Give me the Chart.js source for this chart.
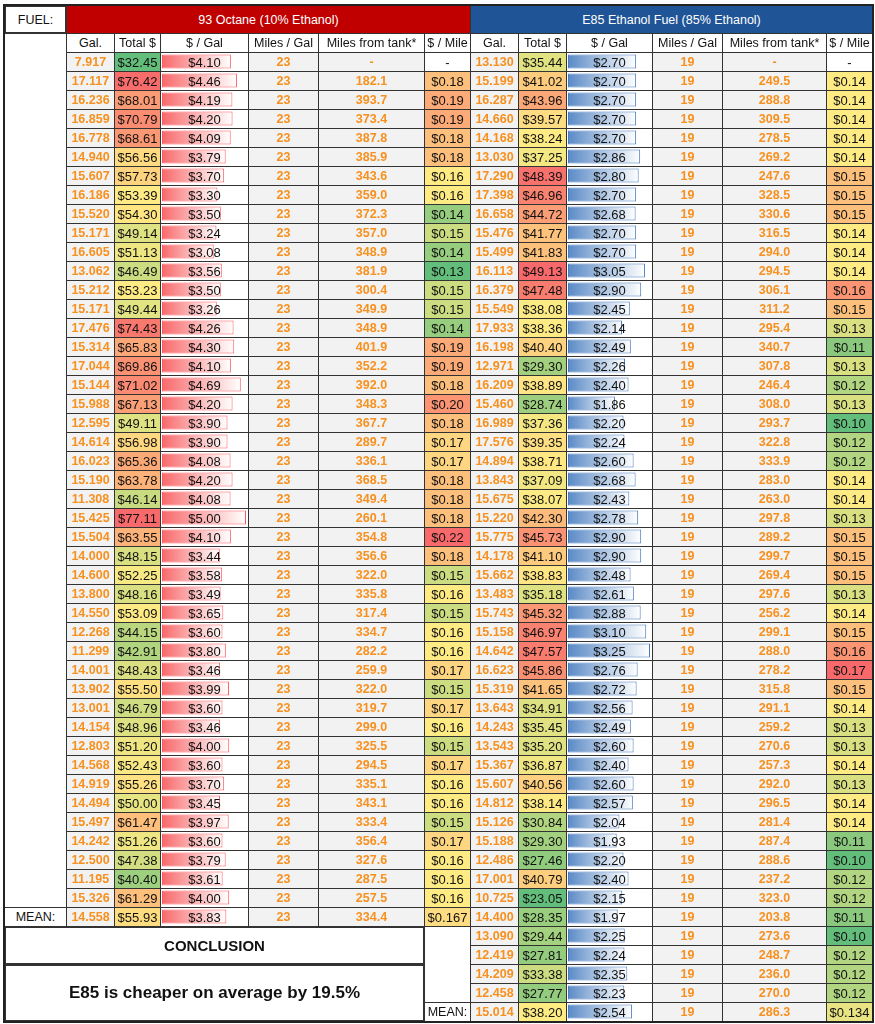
<!DOCTYPE html>
<html>
<head>
<meta charset="utf-8">
<script src="https://cdn.jsdelivr.net/npm/chart.js@4.4.1/dist/chart.umd.min.js"></script>
<style>
  body { margin: 0; background: #fff; font-family: "Liberation Sans", Arial, sans-serif; }
  #page { position: relative; width: 875px; height: 1024px; overflow: hidden; }
  .c { position: absolute; box-sizing: border-box; border: 1px solid #333; display: flex;
       align-items: center; justify-content: center; font-size: 12.5px; color: #111; white-space: nowrap; z-index: 2; }
  .o { color: #f7901e; font-weight: bold; }
  .bar { background: transparent !important; }
  canvas { position: absolute; z-index: 1; }
</style>
</head>
<body>
<div id="page">
  <canvas id="barsL"></canvas>
  <canvas id="barsR"></canvas>
</div>
<script>
// 93 Octane (10% Ethanol)
const galL   = [7.917,17.117,16.236,16.859,16.778,14.940,15.607,16.186,15.520,15.171,16.605,13.062,15.212,15.171,17.476,15.314,17.044,15.144,15.988,12.595,14.614,16.023,15.190,11.308,15.425,15.504,14.000,14.600,13.800,14.550,12.268,11.299,14.001,13.902,13.001,14.154,12.803,14.568,14.919,14.494,15.497,14.242,12.500,11.195,15.326];
const totalL = [32.45,76.42,68.01,70.79,68.61,56.56,57.73,53.39,54.30,49.14,51.13,46.49,53.23,49.44,74.43,65.83,69.86,71.02,67.13,49.11,56.98,65.36,63.78,46.14,77.11,63.55,48.15,52.25,48.16,53.09,44.15,42.91,48.43,55.50,46.79,48.96,51.20,52.43,55.26,50.00,61.47,51.26,47.38,40.40,61.29];
const ppgL   = [4.10,4.46,4.19,4.20,4.09,3.79,3.70,3.30,3.50,3.24,3.08,3.56,3.50,3.26,4.26,4.30,4.10,4.69,4.20,3.90,3.90,4.08,4.20,4.08,5.00,4.10,3.44,3.58,3.49,3.65,3.60,3.80,3.46,3.99,3.60,3.46,4.00,3.60,3.70,3.45,3.97,3.60,3.79,3.61,4.00];
const milesL = [null,182.1,393.7,373.4,387.8,385.9,343.6,359.0,372.3,357.0,348.9,381.9,300.4,349.9,348.9,401.9,352.2,392.0,348.3,367.7,289.7,336.1,368.5,349.4,260.1,354.8,356.6,322.0,335.8,317.4,334.7,282.2,259.9,322.0,319.7,299.0,325.5,294.5,335.1,343.1,333.4,356.4,327.6,287.5,257.5];
const ppmL   = [null,0.18,0.19,0.19,0.18,0.18,0.16,0.16,0.14,0.15,0.14,0.13,0.15,0.15,0.14,0.19,0.19,0.18,0.20,0.18,0.17,0.17,0.18,0.18,0.18,0.22,0.18,0.15,0.16,0.15,0.16,0.16,0.17,0.15,0.17,0.16,0.15,0.17,0.16,0.16,0.15,0.17,0.16,0.16,0.16];
const mpgL = 23;
const meanL = ["14.558", 55.93, 3.83, "334.4", "$0.167"];

// E85 Ethanol Fuel (85% Ethanol)
const galR   = [13.130,15.199,16.287,14.660,14.168,13.030,17.290,17.398,16.658,15.476,15.499,16.113,16.379,15.549,17.933,16.198,12.971,16.209,15.460,16.989,17.576,14.894,13.843,15.675,15.220,15.775,14.178,15.662,13.483,15.743,15.158,14.642,16.623,15.319,13.643,14.243,13.543,15.367,15.607,14.812,15.126,15.188,12.486,17.001,10.725,14.400,13.090,12.419,14.209,12.458];
const totalR = [35.44,41.02,43.96,39.57,38.24,37.25,48.39,46.96,44.72,41.77,41.83,49.13,47.48,38.08,38.36,40.40,29.30,38.89,28.74,37.36,39.35,38.71,37.09,38.07,42.30,45.73,41.10,38.83,35.18,45.32,46.97,47.57,45.86,41.65,34.91,35.45,35.20,36.87,40.56,38.14,30.84,29.30,27.46,40.79,23.05,28.35,29.44,27.81,33.38,27.77];
const ppgR   = [2.70,2.70,2.70,2.70,2.70,2.86,2.80,2.70,2.68,2.70,2.70,3.05,2.90,2.45,2.14,2.49,2.26,2.40,1.86,2.20,2.24,2.60,2.68,2.43,2.78,2.90,2.90,2.48,2.61,2.88,3.10,3.25,2.76,2.72,2.56,2.49,2.60,2.40,2.60,2.57,2.04,1.93,2.20,2.40,2.15,1.97,2.25,2.24,2.35,2.23];
const milesR = [null,249.5,288.8,309.5,278.5,269.2,247.6,328.5,330.6,316.5,294.0,294.5,306.1,311.2,295.4,340.7,307.8,246.4,308.0,293.7,322.8,333.9,283.0,263.0,297.8,289.2,299.7,269.4,297.6,256.2,299.1,288.0,278.2,315.8,291.1,259.2,270.6,257.3,292.0,296.5,281.4,287.4,288.6,237.2,323.0,203.8,273.6,248.7,236.0,270.0];
const ppmR   = [null,0.14,0.14,0.14,0.14,0.14,0.15,0.15,0.15,0.14,0.14,0.14,0.16,0.15,0.13,0.11,0.13,0.12,0.13,0.10,0.12,0.12,0.14,0.14,0.13,0.15,0.15,0.15,0.13,0.14,0.15,0.16,0.17,0.15,0.14,0.13,0.13,0.14,0.13,0.14,0.14,0.11,0.10,0.12,0.12,0.11,0.10,0.12,0.12,0.12];
const mpgR = 19;
const meanR = ["15.014", 38.20, 2.54, "286.3", "$0.134"];

const headers = ["Gal.", "Total $", "$ / Gal", "Miles  / Gal", "Miles from tank*", "$ / Mile"];

const page = document.getElementById("page");
const Y0 = 52, RH = 19;
const colsL = [66, 114, 160, 248, 318, 424, 470];
const colsR = [470, 518, 566, 652, 722, 826, 872];

function cell(x1, y1, x2, y2, text, cls, style) {
  const d = document.createElement("div");
  d.className = "c " + (cls || "");
  Object.assign(d.style, { left: x1 + "px", top: y1 + "px", width: (x2 - x1 + 1) + "px", height: (y2 - y1 + 1) + "px" }, style || {});
  d.textContent = text;
  page.appendChild(d);
  return d;
}

// 3-colour scale green -> yellow -> red
function mix(a, b, t) { return a.map((v, i) => Math.round(v + (b[i] - v) * t)); }
function scaleColor(vals) {
  const s = vals.filter(v => v != null).slice().sort((a, b) => a - b);
  const min = s[0], max = s[s.length - 1], mid = s[Math.floor(s.length / 2)];
  const G = [99, 190, 123], Yl = [255, 235, 132], R = [248, 105, 107];
  return v => {
    let c;
    if (v <= mid) c = mix(G, Yl, mid === min ? 1 : (v - min) / (mid - min));
    else c = mix(Yl, R, (v - mid) / (max - mid));
    return "rgb(" + c.join(",") + ")";
  };
}

function side(cols, gal, total, ppg, miles, ppm, mpg, mean, meanRow) {
  const totCol = scaleColor(total.concat([mean[1]]));
  const ppmCol = scaleColor(ppm.concat([parseFloat(mean[4].slice(1))]));
  headers.forEach((h, i) => cell(cols[i], 33, cols[i + 1], Y0, h));
  const n = gal.length;
  for (let r = 0; r <= n; r++) {
    const y = Y0 + r * RH;
    const isMean = r === n;
    if (isMean && meanRow !== r) continue;
    const g = isMean ? mean[0] : gal[r].toFixed(3);
    const t = isMean ? mean[1] : total[r];
    const p = isMean ? mean[2] : ppg[r];
    const m = isMean ? mean[3] : (miles[r] == null ? "-" : miles[r].toFixed(1));
    const pm = isMean ? mean[4] : (ppm[r] == null ? "-" : "$" + ppm[r].toFixed(2));
    const pmVal = isMean ? parseFloat(mean[4].slice(1)) : ppm[r];
    cell(cols[0], y, cols[1], y + RH, g, "o", { background: "#f2f2f2" });
    cell(cols[1], y, cols[2], y + RH, "$" + t.toFixed(2), "", { background: totCol(t), fontSize: "13px" });
    cell(cols[2], y, cols[3], y + RH, "$" + p.toFixed(2), "bar", { fontSize: "13px" });
    cell(cols[3], y, cols[4], y + RH, String(mpg), "o", { background: "#f2f2f2" });
    cell(cols[4], y, cols[5], y + RH, m, "o", { background: "#f2f2f2" });
    cell(cols[5], y, cols[6], y + RH, pm, "", { background: pmVal == null ? "#fff" : ppmCol(pmVal), fontSize: "13px" });
  }
}

// title row
cell(4, 5, 66, 33, "FUEL:", "", { borderWidth: "2px" });
cell(66, 5, 470, 33, "93 Octane (10% Ethanol)", "", { background: "#c00000", color: "#fff" });
cell(470, 5, 872, 33, "E85 Ethanol Fuel (85% Ethanol)", "", { background: "#1f5597", color: "#fff" });
// left label column
cell(4, 33, 66, Y0 + galL.length * RH, "");
cell(4, Y0 + galL.length * RH, 66, Y0 + (galL.length + 1) * RH, "MEAN:");
side(colsL, galL, totalL, ppgL, milesL, ppmL, mpgL, meanL, galL.length);
side(colsR, galR, totalR, ppgR, milesR, ppmR, mpgR, meanR, galR.length);
// bottom-left block
const yb = Y0 + (galL.length + 1) * RH;
cell(4, yb, 424, 964, "CONCLUSION", "", { fontWeight: "bold", fontSize: "15px", borderWidth: "2px" });
cell(4, 964, 424, 1021, "E85 is cheaper on average by 19.5%", "", { fontWeight: "bold", fontSize: "17px", borderWidth: "2px" });
cell(424, yb, 470, Y0 + galR.length * RH, "");
cell(424, Y0 + galR.length * RH, 470, Y0 + (galR.length + 1) * RH, "MEAN:");
// outer frame
const fr = document.createElement("div");
Object.assign(fr.style, { position: "absolute", left: "3px", top: "4px", width: "871px", height: "1019px", border: "2px solid #222", boxSizing: "border-box", zIndex: 3, pointerEvents: "none" });
page.appendChild(fr);

// data bars for $ / Gal columns via Chart.js
function dataBars(id, cols, vals, solid, border) {
  const cv = document.getElementById(id);
  const rows = vals.length;
  Object.assign(cv.style, { left: (cols[2] + 2) + "px", top: Y0 + "px", width: (cols[3] - cols[2] - 4) + "px", height: (rows * RH) + "px" });
  new Chart(cv, {
    type: "bar",
    data: {
      labels: vals.map((v, i) => i),
      datasets: [{
        data: vals,
        borderColor: border,
        borderWidth: 1,
        borderSkipped: false,
        barPercentage: 0.74,
        categoryPercentage: 1,
        backgroundColor: ctx => {
          const ch = ctx.chart, x = ch.scales && ch.scales.x;
          if (!ch.chartArea || !x || ctx.raw == null) return solid;
          const x0 = x.getPixelForValue(0), x1 = x.getPixelForValue(ctx.raw);
          const g = ch.ctx.createLinearGradient(x0, 0, x1, 0);
          g.addColorStop(0, solid);
          g.addColorStop(1, "#ffffff");
          return g;
        }
      }]
    },
    options: {
      indexAxis: "y",
      responsive: false,
      animation: false,
      maintainAspectRatio: false,
      layout: { padding: 0 },
      plugins: { legend: { display: false }, tooltip: { enabled: false } },
      scales: {
        x: { display: false, min: 0, max: Math.max(...vals) },
        y: { display: false }
      }
    }
  });
}
const lBar = ppgL.concat([meanL[2]]);
const rBar = ppgR.concat([meanR[2]]);
dataBars("barsL", colsL, lBar, "#f8696b", "#ff5a5f");
dataBars("barsR", colsR, rBar, "#5a8ac6", "#4a7bc0");
</script>
</body>
</html>
